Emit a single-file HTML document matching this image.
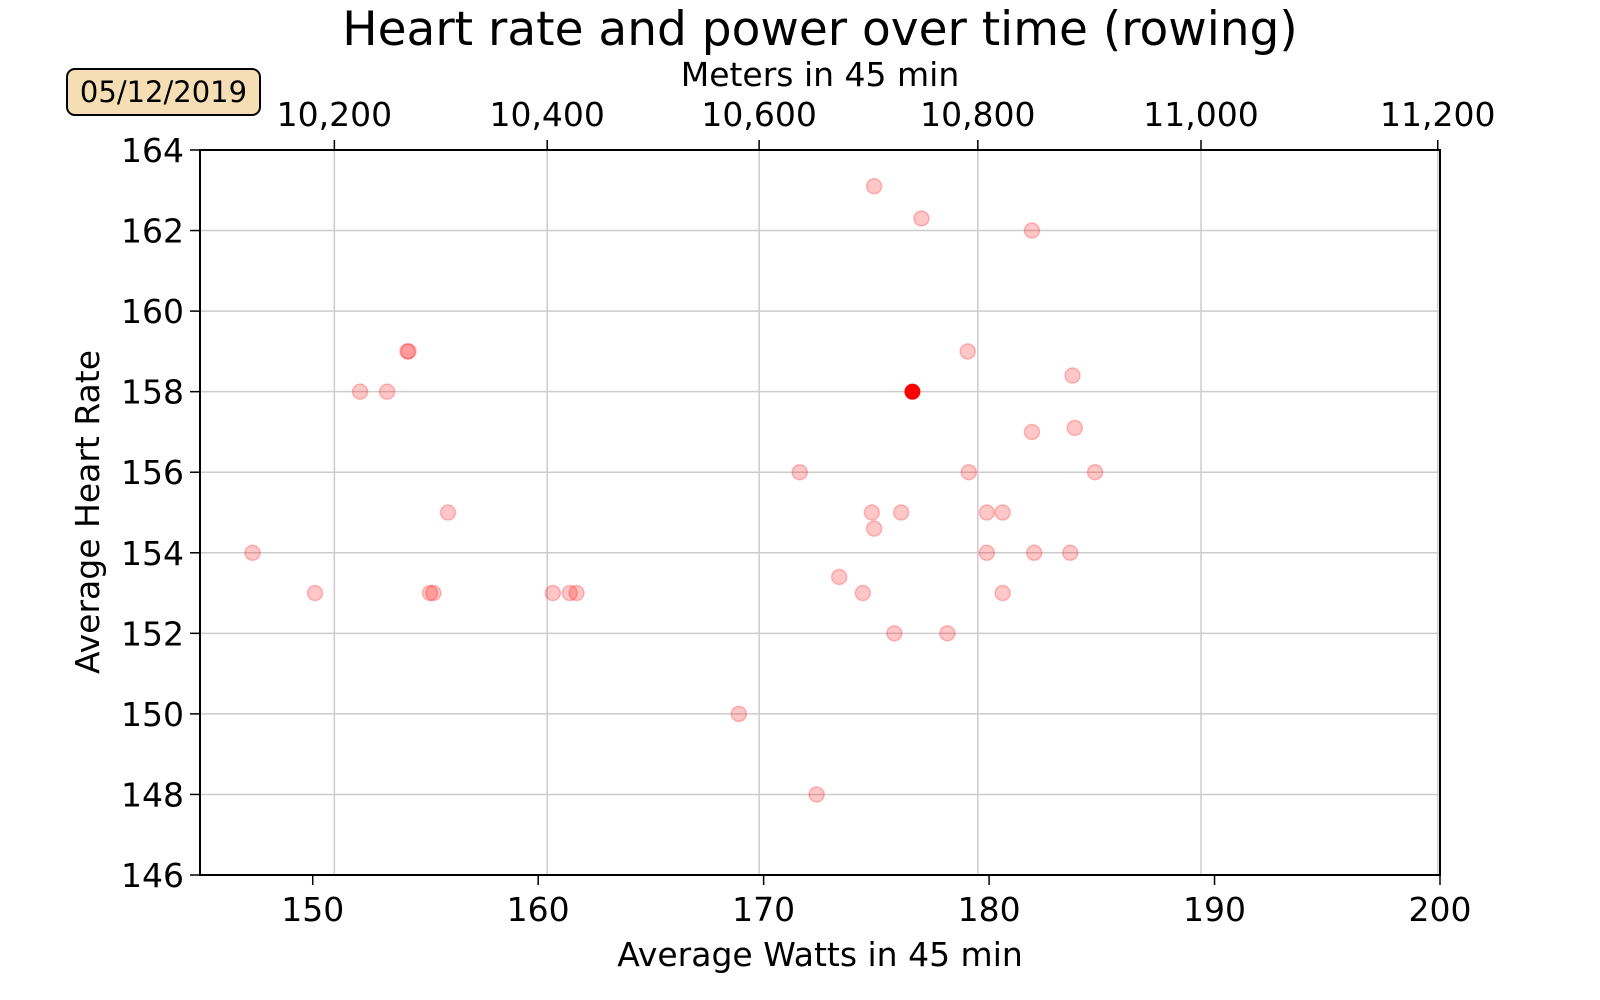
<!DOCTYPE html>
<html><head><meta charset="utf-8"><style>
html,body{margin:0;padding:0;background:#fff;}
svg{display:block;font-family:"DejaVu Sans","Liberation Sans",sans-serif;}
</style></head><body>
<svg id="chart" width="1600" height="1000" viewBox="0 0 1600 1000" xmlns="http://www.w3.org/2000/svg">
<rect width="1600" height="1000" fill="#fff"/>
<text x="820" y="45" font-size="47" text-anchor="middle">Heart rate and power over time (rowing)</text>
<text x="820" y="86" font-size="33" text-anchor="middle">Meters in 45 min</text>
<g>
<rect x="67" y="69" width="193" height="46" rx="8" fill="#f5deb3" stroke="#000" stroke-width="2"/>
<text x="163.5" y="102" font-size="29" text-anchor="middle">05/12/2019</text>
</g>
<g id="grid"></g>
<g id="points"></g>
<g id="axes"></g>
<text x="820" y="966" font-size="33" text-anchor="middle">Average Watts in 45 min</text>
<text transform="translate(99,512) rotate(-90)" font-size="33" text-anchor="middle">Average Heart Rate</text>
</svg>
<script>
const xTicks = [150,160,170,180,190,200];
const yTicks = [146,148,150,152,154,156,158,160,162,164];
const topTickLabels = ["10,200","10,400","10,600","10,800","11,000","11,200"];
const topTickWatts = [150.96,160.4,169.8,179.5,189.4,199.9];
const watts = [147.33,150.1,152.1,153.3,154.2,154.25,156.0,155.2,155.35,160.65,161.4,161.7,168.9,171.6,172.35,173.35,174.4,174.8,174.9,174.9,175.8,176.1,177.0,178.15,179.05,179.1,179.9,179.9,180.6,180.6,181.9,181.9,182.0,183.6,183.7,183.8,184.7];
const heartRate = [154,153,158,158,159,159,155,153,153,153,153,153,150,156,148,153.4,153,155,154.6,163.1,152,155,162.3,152,159,156,155,154,155,153,157,162,154,154,158.4,157.1,156];
const highlightWatts = [176.6];
const highlightHR = [158];

const L=200,R=1440,T=150,B=875;
const X=v=>L+(v-145)/(200-145)*(R-L);
const Y=v=>B-(v-146)/(164-146)*(B-T);
const NS="http://www.w3.org/2000/svg";
function mk(tag,attrs,parent){const e=document.createElementNS(NS,tag);for(const k in attrs)e.setAttribute(k,attrs[k]);parent.appendChild(e);return e;}
const grid=document.getElementById('grid'),axes=document.getElementById('axes'),pts=document.getElementById('points');

yTicks.forEach(v=>{
 const g=mk('line',{x1:L,x2:R,y1:Y(v),y2:Y(v),stroke:'#cccccc','stroke-width':1.5},grid);
 
 
 const t=mk('line',{x1:L-10,x2:L,y1:Y(v),y2:Y(v),stroke:'#000','stroke-width':1.5},axes);
 
 
 const l=mk('text',{x:L-16,y:Y(v)+12,'font-size':33,'text-anchor':'end'},axes);
 l.textContent=v;
 
 
});
topTickWatts.forEach((v,i)=>{
 const g=mk('line',{x1:X(v),x2:X(v),y1:T,y2:B,stroke:'#cccccc','stroke-width':1.5},grid);
 
 
 const t=mk('line',{x1:X(v),x2:X(v),y1:T-10,y2:T,stroke:'#000','stroke-width':1.5},axes);
 
 
 const l=mk('text',{x:X(v),y:T-24,'font-size':33,'text-anchor':'middle'},axes);
 l.textContent=topTickLabels[i];
 
 
});
xTicks.forEach(v=>{
 const t=mk('line',{x1:X(v),x2:X(v),y1:B,y2:B+10,stroke:'#000','stroke-width':1.5},axes);
 
 
 const l=mk('text',{x:X(v),y:B+46,'font-size':33,'text-anchor':'middle'},axes);
 l.textContent=v;
 
 
});
const fr=mk('rect',{x:L,y:T,width:R-L,height:B-T,fill:'none',stroke:'#000','stroke-width':2},axes);



watts.forEach((w,i)=>{
 const c=mk('circle',{cx:X(w),cy:Y(heartRate[i]),r:7.5,fill:'rgba(255,0,0,0.22)',stroke:'rgba(255,0,0,0.25)','stroke-width':1.5},pts);
 
 
});
highlightWatts.forEach((w,i)=>{
 const c=mk('circle',{cx:X(w),cy:Y(highlightHR[i]),r:7.5,fill:'#ff0000',stroke:'#ff0000','stroke-width':1},pts);
 
 
});
</script>
</body></html>
